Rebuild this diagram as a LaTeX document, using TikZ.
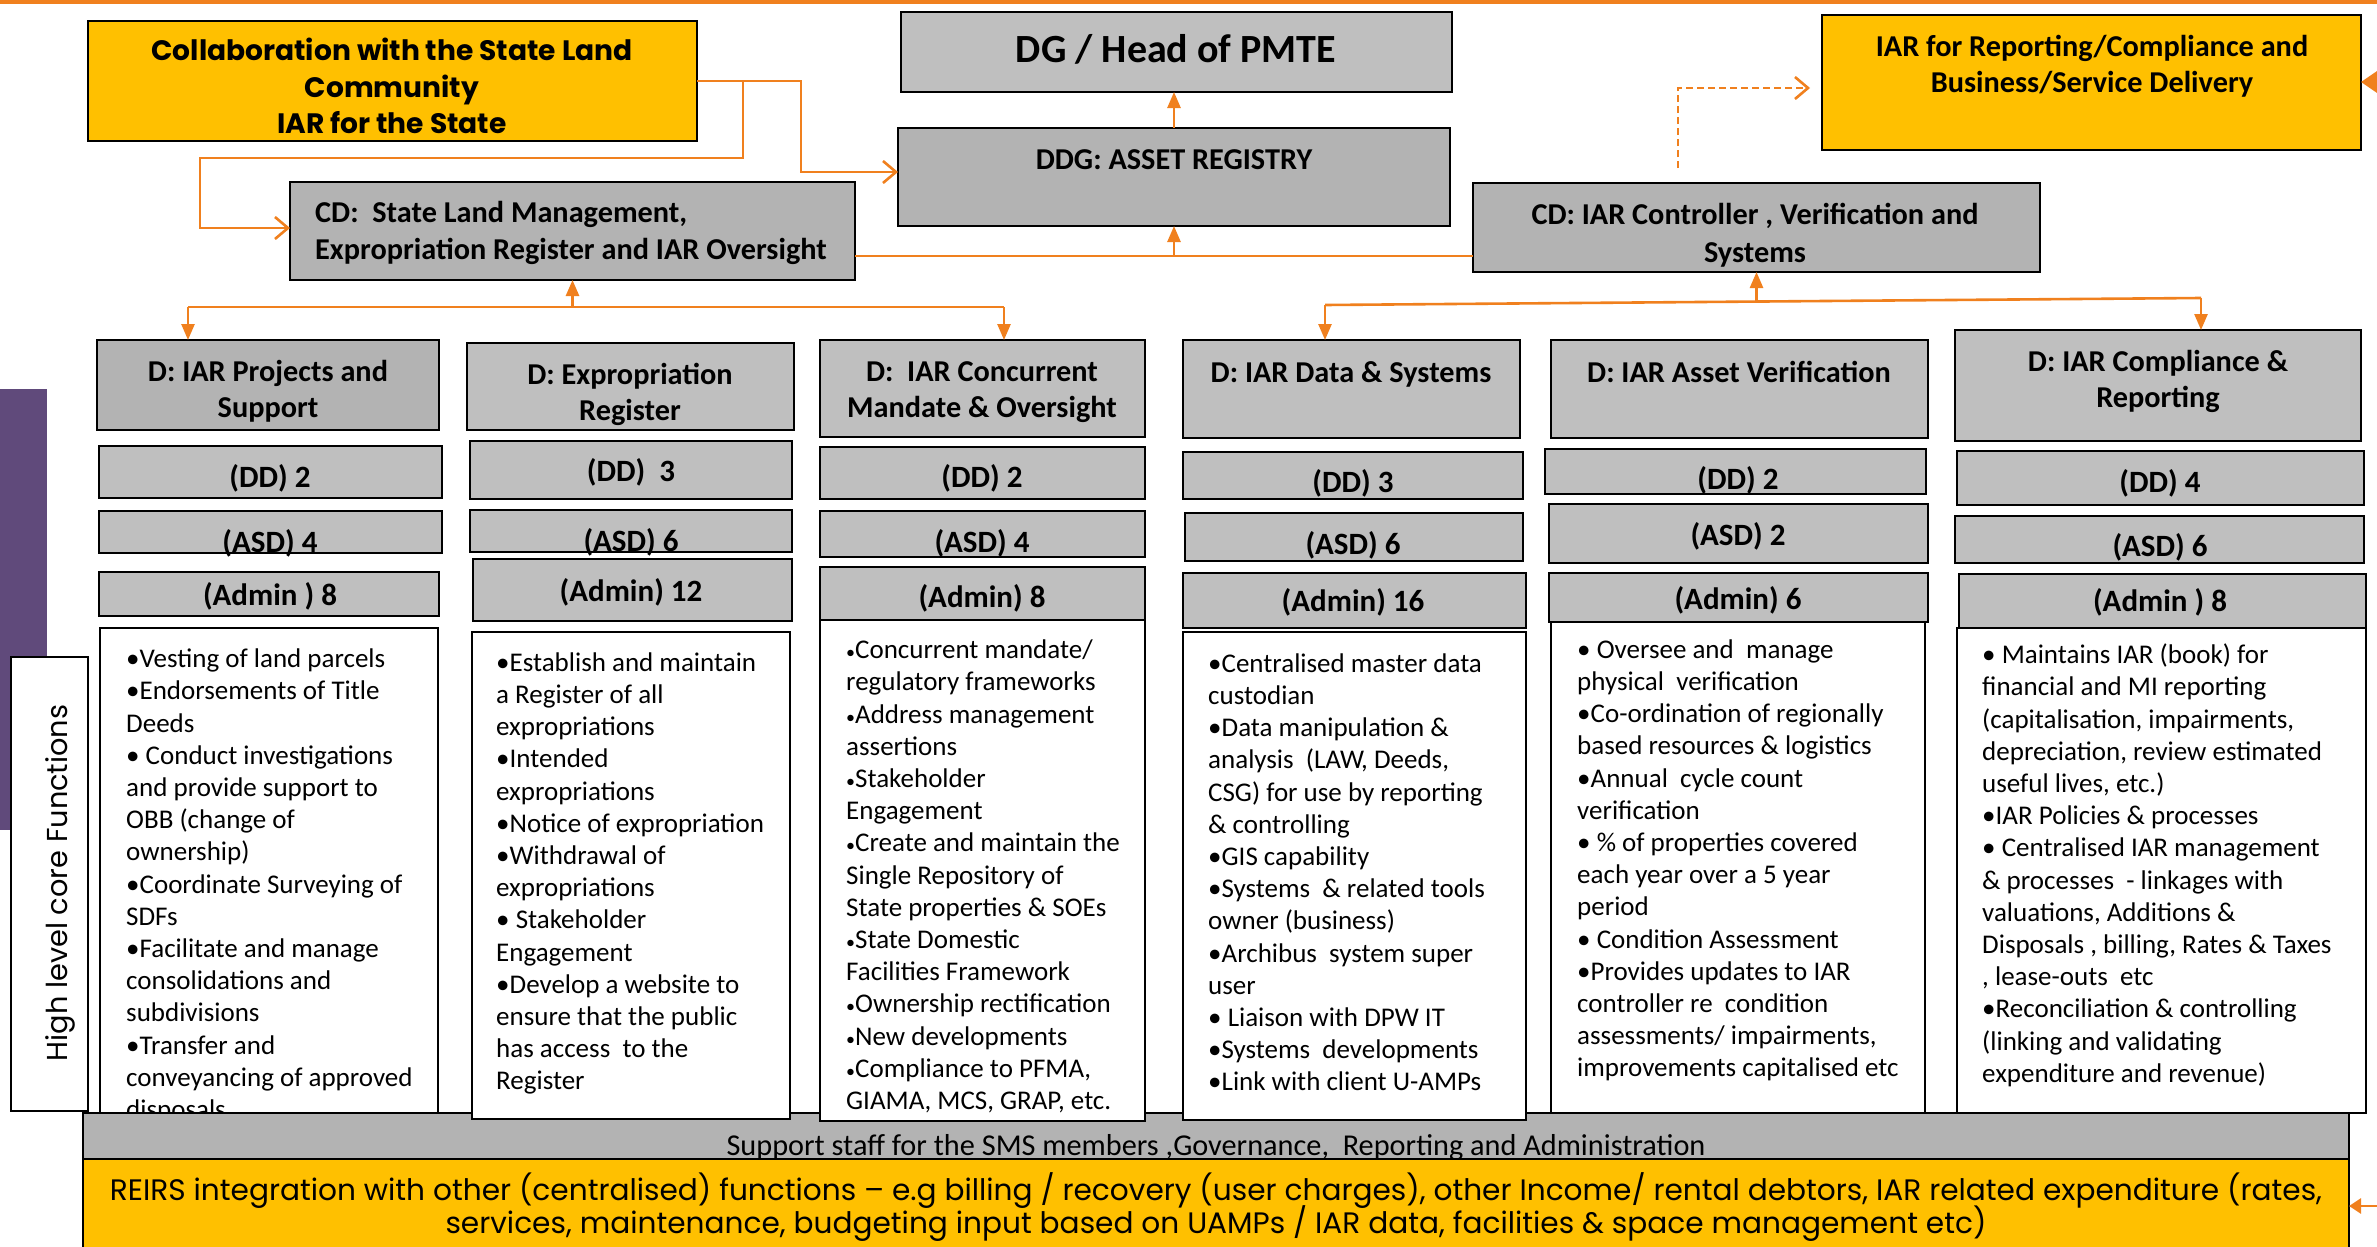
\documentclass[tikz,border=0pt]{standalone}
\usepackage{fontspec}
\setmainfont{Carlito}
\newfontfamily\gothic{Poppins}
\usetikzlibrary{arrows.meta,fit}

\definecolor{grA}{RGB}{191,191,191}
\definecolor{grB}{RGB}{179,179,179}
\definecolor{gold}{RGB}{255,192,0}
\definecolor{orng}{RGB}{240,128,30}
\definecolor{plum}{RGB}{96,74,123}

% smaller bullet used in the concurrent-mandate list
\newcommand\sbul{{\fontsize{18}{32.2}\selectfont •}}

\begin{document}
\begin{tikzpicture}[x=1pt,y=-1pt,
  bx/.style={draw=black, line width=2.2pt, inner sep=0pt, outer sep=0pt},
  greyA/.style={bx, fill=grA},
  greyB/.style={bx, fill=grB},
  yel/.style={bx, fill=gold},
  wht/.style={bx, fill=white},
  hd/.style={inner sep=0pt, align=center, font=\bfseries\fontsize{30.3}{36}\selectfont},
  hdb/.style={inner sep=0pt, anchor=base, font=\bfseries\fontsize{30.3}{36}\selectfont},
  cnt/.style={inner sep=0pt, anchor=base, font=\bfseries\fontsize{31}{36}\selectfont},
  bt/.style={inner sep=0pt, anchor=north west, align=left, font=\fontsize{27}{32.2}\selectfont},
  rl/.style={inner sep=0pt, anchor=base, font=\gothic\fontsize{29.6}{34}\selectfont},
  conn/.style={draw=orng, line width=2.6pt},
  barb/.style={-{Straight Barb[length=13pt,width=22pt]}},
  tri/.style={-{Triangle[length=16pt,width=13pt]}},
  dconn/.style={conn, dash pattern=on 7pt off 4pt},
]
\useasboundingbox (0,0) rectangle (2377,1247);
\clip (0,0) rectangle (2377,1247);
\fill[white] (0,0) rectangle (2377,1247);

% top rule and side band
\fill[orng] (0,0) rectangle (2377,4);
\fill[plum] (0,389) rectangle (47,830);

% side caption
\node[wht, fit={(11,657)(88,1111)}] (hlcf) {};
\node[inner sep=0pt, rotate=90, font=\gothic\fontsize{28.8}{34}\selectfont] (hlcftxt) at (60,883) {High level core Functions};

% ---------- first column body (runs under the support strip)
\node[wht, fit={(100,628)(438,1125)}] (b1) {};
\node[bt] (t1) at (126,645) {\strut •Vesting of land parcels\\
•Endorsements of Title\\
Deeds\\
• Conduct investigations\\
and provide support to\\
OBB (change of\\
ownership)\\
•Coordinate Surveying of\\
SDFs\\
•Facilitate and manage\\
consolidations and\\
subdivisions\\
•Transfer and\\
conveyancing of approved\\
disposals};

% ---------- support strip and integration banner
\node[greyB, fit={(83,1113)(2349,1159)}] (strip) {};
\node[inner sep=0pt, anchor=base, font=\fontsize{30.3}{36}\selectfont] (striptxt) at (1216,1155)
  {Support staff for the SMS members ,Governance,~ Reporting and Administration};
\node[yel, fit={(83,1159)(2349,1270)}] (reirs) {};
\node[rl] (reirs1) at (1216,1200)
  {REIRS integration with other (centralised) functions – e.g billing / recovery (user charges), other Income/ rental debtors, IAR related expenditure (rates,};
\node[rl] (reirs2) at (1216,1233)
  {services, maintenance, budgeting input based on UAMPs / IAR data, facilities \& space management etc)};

% ---------- remaining column bodies
\node[wht, fit={(472,632)(790,1119)}] (b2) {};
\node[bt] (t2) at (496,648.5) {\strut •Establish and maintain\\
a Register of all\\
expropriations\\
•Intended\\
expropriations\\
•Notice of expropriation\\
•Withdrawal of\\
expropriations\\
• Stakeholder\\
Engagement\\
•Develop a website to\\
ensure that the public\\
has access~ to the\\
Register};

\node[wht, fit={(820,620)(1145,1121)}] (b3) {};
\node[bt] (t3) at (846,636) {\strut \sbul Concurrent mandate/\\
regulatory frameworks\\
\sbul Address management\\
assertions\\
\sbul Stakeholder\\
Engagement\\
\sbul Create and maintain the\\
Single Repository of\\
State properties \& SOEs\\
\sbul State Domestic\\
Facilities Framework\\
\sbul Ownership rectification\\
\sbul New developments\\
\sbul Compliance to PFMA,\\
GIAMA, MCS, GRAP, etc.};

\node[wht, fit={(1183,632)(1526,1120)}] (b4) {};
\node[bt] (t4) at (1208,649.5) {\strut •Centralised master data\\
custodian\\
•Data manipulation \&\\
analysis~ (LAW, Deeds,\\
CSG) for use by reporting\\
\& controlling\\
•GIS capability\\
•Systems~ \& related tools\\
owner (business)\\
•Archibus~ system super\\
user\\
• Liaison with DPW IT\\
•Systems~ developments\\
•Link with client U-AMPs};

\node[wht, fit={(1551,622)(1925,1113)}] (b5) {};
\node[bt] (t5) at (1577,635.5) {\strut • Oversee and~ manage\\
physical~ verification\\
•Co-ordination of regionally\\
based resources \& logistics\\
•Annual~ cycle count\\
verification\\
• \% of properties covered\\
each year over a 5 year\\
period\\
• Condition Assessment\\
•Provides updates to IAR\\
controller re~ condition\\
assessments/ impairments,\\
improvements capitalised etc};

\node[wht, fit={(1957,628)(2366,1113)}] (b6) {};
\node[bt] (t6) at (1982,641) {\strut • Maintains IAR (book) for\\
financial and MI reporting\\
(capitalisation, impairments,\\
depreciation, review estimated\\
useful lives, etc.)\\
•IAR Policies \& processes\\
• Centralised IAR management\\
\& processes~ - linkages with\\
valuations, Additions \&\\
Disposals , billing, Rates \& Taxes\\
, lease-outs~ etc\\
•Reconciliation \& controlling\\
(linking and validating\\
expenditure and revenue)};

% ---------- top level
\node[yel, fit={(88,21)(697,141)}] (collab) {};
\node[inner sep=0pt, anchor=north, align=center, font=\gothic\bfseries\fontsize{28.1}{36.5}\selectfont] (collabtxt) at (392,35)
  {\strut Collaboration with the State Land\\Community\\IAR for the State};

\node[greyA, fit={(901,12)(1452,92)}] (dg) {};
\node[inner sep=0pt, anchor=base, font=\bfseries\fontsize{40}{48}\selectfont] (dgtxt) at (1176,62.6) {DG / Head of PMTE};

\node[greyB, fit={(898,128)(1450,226)}] (ddg) {};
\node[hdb] (ddgtxt) at (1174,169) {DDG: ASSET REGISTRY};

\node[yel, fit={(1822,15)(2361,150)}] (iarrep) {};
\node[hd, anchor=north] (iarreptxt) at (2092,30.8) {\strut IAR for Reporting/Compliance and\\Business/Service Delivery};

\node[greyB, fit={(290,182)(855,280)}] (cdsl) {};
\node[hd, anchor=north west, align=left, font=\bfseries\fontsize{30.3}{37}\selectfont] (cdsltxt) at (315,196.1)
  {\strut CD:~ State Land Management,\\Expropriation Register and IAR Oversight};

\node[greyB, fit={(1473,183)(2040,272)}] (cdiar) {};
\node[hd, anchor=north, font=\bfseries\fontsize{30.3}{38}\selectfont] (cdiartxt) at (1755,197.4)
  {\strut CD: IAR Controller , Verification and\\Systems};

% ---------- directorate headers
\node[greyB, fit={(97,340)(439,430)}] (dproj) {};
\node[hd, anchor=north] (dprojtxt) at (268,355.8) {\strut D: IAR Projects and\\Support};
\node[greyA, fit={(467,343)(794,430)}] (dexp) {};
\node[hd, anchor=north] (dexptxt) at (630,358.8) {\strut D: Expropriation\\Register};
\node[greyA, fit={(820,340)(1145,437)}] (dconc) {};
\node[hd, anchor=north] (dconctxt) at (982,355.8) {\strut D:~ IAR Concurrent\\Mandate \& Oversight};
\node[greyA, fit={(1183,340)(1520,438)}] (ddata) {};
\node[hdb] (ddatatxt) at (1351,382) {D: IAR Data \& Systems};
\node[greyA, fit={(1551,340)(1928,438)}] (dver) {};
\node[hdb] (dvertxt) at (1739,382) {D: IAR Asset Verification};
\node[greyA, fit={(1955,330)(2361,441)}] (dcomp) {};
\node[hd, anchor=north] (dcomptxt) at (2158,345.8) {\strut D: IAR Compliance \&\\Reporting};

% ---------- staff counts
\node[greyA, fit={(99,446)(442,498)}] (dd1) {};
\node[cnt] (dd1t) at (270,487) {(DD) 2};
\node[greyA, fit={(99,511)(442,553)}] (asd1) {};
\node[cnt] (asd1t) at (270,552) {(ASD) 4};
\node[greyA, fit={(99,572)(439,616)}] (adm1) {};
\node[cnt] (adm1t) at (270,605) {(Admin ) 8};

\node[greyA, fit={(470,441)(792,499)}] (dd2) {};
\node[cnt] (dd2t) at (631,481) {(DD)~ 3};
\node[greyA, fit={(470,510)(792,552)}] (asd2) {};
\node[cnt] (asd2t) at (631,551) {(ASD) 6};
\node[greyA, fit={(473,559)(792,621)}] (adm2) {};
\node[cnt] (adm2t) at (631,601) {(Admin) 12};

\node[greyA, fit={(820,447)(1145,499)}] (dd3) {};
\node[cnt] (dd3t) at (982,487) {(DD) 2};
\node[greyA, fit={(820,511)(1145,557)}] (asd3) {};
\node[cnt] (asd3t) at (982,552) {(ASD) 4};
\node[greyA, fit={(820,567)(1145,620)}] (adm3) {};
\node[cnt] (adm3t) at (982,607) {(Admin) 8};

\node[greyA, fit={(1183,452)(1523,499)}] (dd4) {};
\node[cnt] (dd4t) at (1353,492) {(DD) 3};
\node[greyA, fit={(1185,513)(1523,561)}] (asd4) {};
\node[cnt] (asd4t) at (1353,554) {(ASD) 6};
\node[greyA, fit={(1183,573)(1526,628)}] (adm4) {};
\node[cnt] (adm4t) at (1353,611) {(Admin) 16};

\node[greyA, fit={(1545,449)(1926,494)}] (dd5) {};
\node[cnt] (dd5t) at (1738,489) {(DD) 2};
\node[greyA, fit={(1549,504)(1928,563)}] (asd5) {};
\node[cnt] (asd5t) at (1738,545) {(ASD) 2};
\node[greyA, fit={(1549,573)(1928,622)}] (adm5) {};
\node[cnt] (adm5t) at (1738,609) {(Admin) 6};

\node[greyA, fit={(1957,451)(2364,505)}] (dd6) {};
\node[cnt] (dd6t) at (2160,492) {(DD) 4};
\node[greyA, fit={(1955,516)(2364,563)}] (asd6) {};
\node[cnt] (asd6t) at (2160,556) {(ASD) 6};
\node[greyA, fit={(1959,574)(2366,628)}] (adm6) {};
\node[cnt] (adm6t) at (2160,611) {(Admin ) 8};

% ---------- connectors
\draw[conn, barb] (collab.east) -- (801,81) |- (ddg.west |- 0,172);
\draw[conn, barb] (collab.east) -- (743,81) |- (200,158) |- (cdsl.west |- 0,228);

\draw[conn, tri] (ddg.north) -- (ddg.north |- dg.south);

\coordinate (jn) at (1174,256);
\draw[conn] (cdsl.east |- jn) -- (jn) -- (cdiar.west |- jn);
\draw[conn, tri] (jn) -- (ddg.south);

\coordinate (dsh) at (1678,168);
\draw[dconn, barb, shorten >=12pt] (dsh) |- (iarrep.west |- 0,88);

\coordinate (bl) at (188,307);
\coordinate (br) at (1004,307);
\draw[conn] (bl) -- (br);
\draw[conn, tri] (bl) -- (bl |- dproj.north);
\draw[conn, tri] (br) -- (br |- dconc.north);
\draw[conn, tri] (cdsl.south |- bl) -- (cdsl.south);

\coordinate (cl) at (1325,305);
\coordinate (cr) at (2201,298);
\draw[conn] (cl) -- (cr);
\draw[conn, tri] (cl) -- (cl |- ddata.north);
\draw[conn, tri] (cr) -- (cr |- dcomp.north);
\draw[conn, tri] (cdiar.south |- 0,302) -- (cdiar.south);

\coordinate (offa) at (2400,82);
\draw[conn, -{Triangle[length=18pt,width=24pt]}] (offa) -- (iarrep.east |- offa);
\coordinate (offb) at (2400,1206);
\draw[conn, -{Triangle[length=12pt,width=15pt]}] (offb) -- (reirs.east |- offb);
\end{tikzpicture}
\end{document}
